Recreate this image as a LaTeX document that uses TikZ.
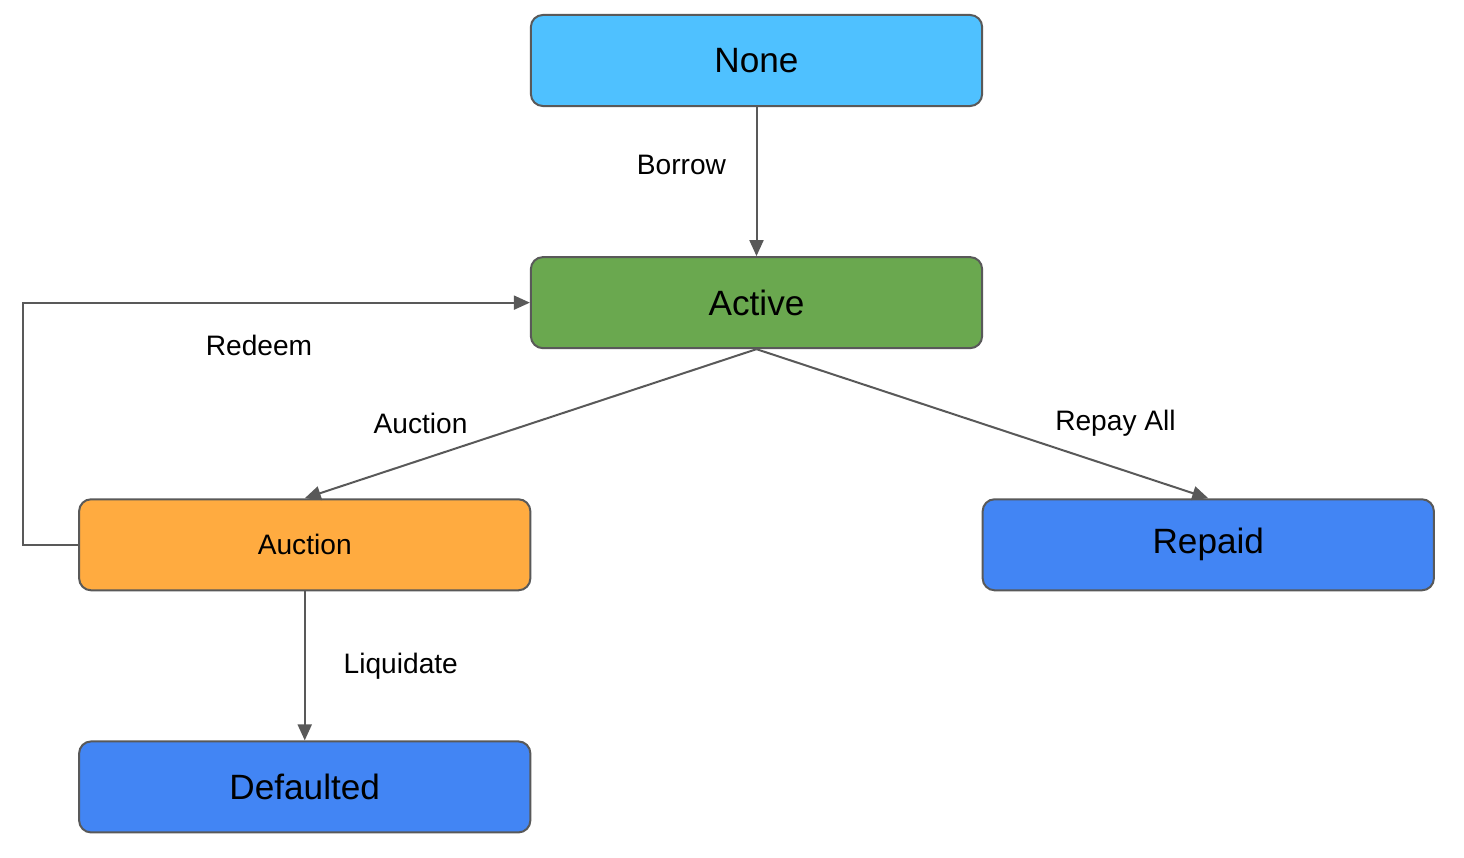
\documentclass[tikz,border=0pt]{standalone}
\usepackage{fontspec}
\setmainfont{Liberation Sans}
\usepackage{xcolor}
\usetikzlibrary{arrows.meta, positioning, calc}
\definecolor{noneblue}{HTML}{4FC1FF}
\definecolor{activegreen}{HTML}{6AA84F}
\definecolor{auctionorange}{HTML}{FFAB40}
\definecolor{doneblue}{HTML}{4285F4}
\definecolor{edgegray}{HTML}{595959}
\tikzset{
    loanstate/.style={
        rectangle,
        rounded corners=0.12cm,
        line width=0.02cm,
        draw=edgegray,
        minimum width=4.51cm,
        minimum height=0.91cm,
        font=\fontsize{10}{12}\selectfont,
    },
    trans/.style={
        -{Triangle[length=0.16cm,width=0.14cm]},
        line width=0.02cm,
        draw=edgegray,
    },
    translabel/.style={
        font=\fontsize{8}{10}\selectfont,
    },
}

\begin{document}
\begin{tikzpicture}[x=0.01cm,y=-0.01cm,node distance=1.49cm and -0.015cm]
          \useasboundingbox (0,0) rectangle (1464,858);
          \node [loanstate, fill=noneblue] (None) at (756.5,60.5) {None};
          \node [loanstate, fill=activegreen] (Active) [below=of None] {Active};
          \node [loanstate, fill=auctionorange, font=\fontsize{8}{10}\selectfont] (Auction) [below left=of Active] {Auction};
          \node [loanstate, fill=doneblue] (Repaid) [below right=of Active] {Repaid};
          \node [loanstate, fill=doneblue] (Defaulted) [below=of Auction] {Defaulted};

          \draw[trans] (None) -- node[translabel, xshift=-0.75cm, yshift=0.17cm] {Borrow} (Active);
          \draw[trans] (Active.south) -- node[translabel, xshift=-1.1cm] {Auction} (Auction.north);
          \draw[trans] (Active.south) -- node[translabel, xshift=1.33cm] {Repay All} (Repaid.north);
          \draw[trans] (Auction) -- node[translabel, xshift=0.96cm] {Liquidate} (Defaulted);
          \draw[trans] (Auction.west) -- ++(-55,0) |- node[translabel, pos=0.75, xshift=-0.175cm, yshift=-0.43cm] {Redeem} (Active.west);
        \end{tikzpicture}
\end{document}
